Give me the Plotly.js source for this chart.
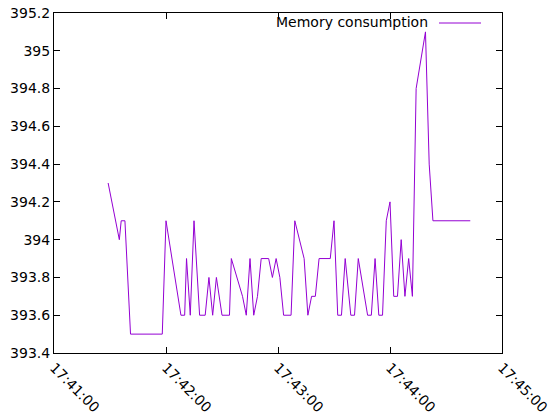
<!DOCTYPE html>
<html>
<head>
<meta charset="utf-8">
<script src="https://cdn.plot.ly/plotly-3.0.1.min.js"></script>
<style>html,body{margin:0;padding:0;background:#fff;}#chart{width:550px;height:415px;}</style>
</head>
<body>
<div id="chart"></div>
<script>
const seriesName = "Memory consumption";
const timeLabels = [
  "17:41:29","17:41:35","17:41:36","17:41:38","17:41:41","17:41:58","17:42:00","17:42:08",
  "17:42:10","17:42:11","17:42:13","17:42:15","17:42:18","17:42:21","17:42:23","17:42:25",
  "17:42:27","17:42:30","17:42:34","17:42:35","17:42:41","17:42:43","17:42:45","17:42:47",
  "17:42:49","17:42:51","17:42:55","17:42:57","17:42:59","17:43:01","17:43:03","17:43:07",
  "17:43:09","17:43:14","17:43:16","17:43:18","17:43:20","17:43:22","17:43:28","17:43:30",
  "17:43:32","17:43:34","17:43:36","17:43:39","17:43:41","17:43:43","17:43:48","17:43:50",
  "17:43:52","17:43:54","17:43:56","17:43:58","17:44:00","17:44:02","17:44:04","17:44:06",
  "17:44:08","17:44:10","17:44:12","17:44:14","17:44:19","17:44:21","17:44:23","17:44:43"
];
const memoryValues = [
  394.3,394.0,394.1,394.1,393.5,393.5,394.1,393.6,
  393.6,393.9,393.6,394.1,393.6,393.6,393.8,393.6,
  393.8,393.6,393.6,393.9,393.7,393.6,393.9,393.6,
  393.7,393.9,393.9,393.8,393.9,393.8,393.6,393.6,
  394.1,393.9,393.6,393.7,393.7,393.9,393.9,394.1,
  393.6,393.6,393.9,393.6,393.6,393.9,393.6,393.6,
  393.9,393.6,393.6,394.1,394.2,393.7,393.7,394.0,
  393.7,393.9,393.7,394.8,395.1,394.4,394.1,394.1
];
const xStart = "2024-01-01 17:41:00";
const xEnd = "2024-01-01 17:45:00";
const yMin = 393.4, yMax = 395.2, yStep = 0.2;
const lineColor = "#9400d3";

const xs = timeLabels.map(t => "2024-01-01 " + t);
const font = {family: "DejaVu Sans, sans-serif", size: 14, color: "#000"};

const trace = {
  x: xs, y: memoryValues, type: "scatter", mode: "lines",
  name: seriesName, line: {color: lineColor, width: 1}, showlegend: false
};

const layout = {
  width: 550, height: 415,
  margin: {l: 54, r: 48, t: 13, b: 62, pad: 0},
  paper_bgcolor: "#fff", plot_bgcolor: "#fff",
  font: font,
  xaxis: {
    type: "date", range: [xStart, xEnd], dtick: 60000, tick0: xStart,
    tickformat: "%H:%M:%S", tickangle: 45, ticklabeloverflow: "allow",
    showgrid: false, zeroline: false, showline: true, linecolor: "#000", linewidth: 1,
    mirror: "ticks", ticks: "inside", ticklen: 6, tickcolor: "#000",
    tickfont: font
  },
  yaxis: {
    range: [yMin, yMax], dtick: yStep, tick0: yMin,
    showgrid: false, zeroline: false, showline: true, linecolor: "#000", linewidth: 1,
    mirror: "ticks", ticks: "inside", ticklen: 6, tickcolor: "#000",
    tickfont: font
  },
  annotations: [{
    xref: "paper", yref: "paper", x: (430-54)/448, y: (353-22)/340,
    text: seriesName, showarrow: false, xanchor: "right", yanchor: "middle",
    font: font
  }],
  shapes: [{
    type: "line", xref: "paper", yref: "paper",
    x0: (439-54)/448, x1: (481-54)/448, y0: (353-23)/340, y1: (353-23)/340,
    line: {color: lineColor, width: 1}
  }]
};

Plotly.newPlot("chart", [trace], layout, {staticPlot: true, displayModeBar: false});
</script>
</body>
</html>
